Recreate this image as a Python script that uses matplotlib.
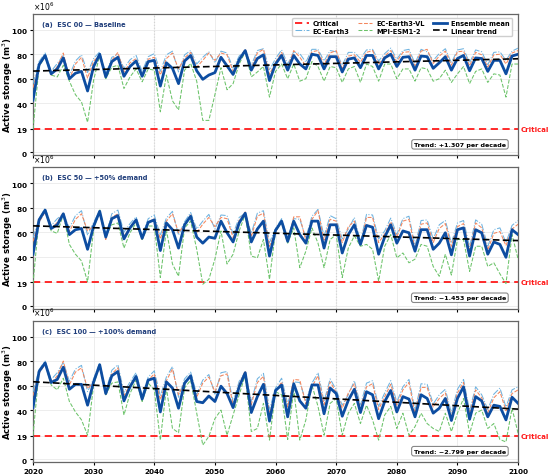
import numpy as np
import matplotlib
matplotlib.use("Agg")
import matplotlib.pyplot as plt

years = list(range(2020, 2101))

# ---------------- Panel (a) ESC 00 (values in 10^6 m3) ----------------
ens_a = [42.5, 71.5, 79, 64, 68, 77, 60, 64.5, 66, 50,
         70, 80, 61.5, 74, 77.5, 62, 70, 74.5, 62, 74,
         75, 54, 73, 68.5, 56, 74.5, 79, 66.5, 59.5, 63,
         65, 77.5, 70.5, 63.5, 75.5, 83, 67, 76.5, 79.5, 58.5,
         72, 79, 67, 79, 72, 68, 80, 79, 68, 78,
         78, 65.5, 76, 77, 69, 79, 79, 68, 77, 80,
         70, 77.5, 78, 67, 78.5, 78, 68.5, 73, 78, 67,
         76.5, 79, 66.5, 77, 76.5, 66, 75, 75, 64, 78.5,
         80]
mpi_a = [19, 70, 78, 63, 61.5, 71, 58, 47, 41, 24.5,
         59, 79, 60, 69.5, 71, 52, 61.5, 68, 57.5, 68,
         67, 33, 63, 42, 34.5, 67, 72.5, 58, 26, 26,
         47, 69, 51, 56, 72, 82, 61.5, 65.5, 70, 45,
         66, 72, 60, 72, 58, 60, 74, 70, 58, 70,
         69, 57, 68, 70, 57, 72, 70, 58, 72, 72,
         60, 68, 68, 58, 69, 68, 58, 60, 67, 57,
         64, 70, 56, 66, 68, 57, 64, 63, 45, 72,
         72]
ec3_a = [56, 74, 81, 66, 72.5, 79, 62.5, 74.5, 79.5, 65,
         76.5, 82, 63.5, 77.5, 80, 68.5, 75.5, 79, 66, 78,
         80.5, 66, 79.5, 82.5, 65.5, 79.5, 83, 72, 77.5, 82,
         73, 82.5, 81, 68.5, 78.5, 83, 71, 83, 84.5, 67,
         76.5, 83.5, 72, 82, 80.5, 73.5, 84, 84, 74.5, 83,
         82, 71, 81.5, 81.5, 76.5, 83.5, 84, 74.5, 80.5, 85,
         76, 83, 84, 72.5, 84, 82, 75, 80.5, 84.5, 73,
         83.5, 84.5, 73, 83.5, 82, 71.5, 81.5, 82, 75, 82.5,
         85]
vl_a = [52.5, 70.5, 78, 63, 70, 81, 59.5, 72, 77.5, 60.5,
        74.5, 79, 61, 75, 81.5, 65.5, 73, 76.5, 62.5, 76,
        77.5, 63, 76.5, 81, 68, 77, 81.5, 69.5, 75, 81,
        75, 81, 79.5, 66, 76, 84, 68.5, 81, 84, 63.5,
        73.5, 81.5, 69, 83, 77.5, 70.5, 82, 83, 71.5, 81,
        83, 68.5, 78.5, 79.5, 73.5, 81.5, 83, 71.5, 78.5, 83,
        74, 81.5, 82, 70.5, 82.5, 84, 72.5, 78.5, 82.5, 71,
        82, 82.5, 70.5, 81.5, 79.5, 69.5, 79.5, 80, 72, 81,
        83]

# ---------------- Panel (b) ESC 50 ----------------
ens_b = [42, 70, 78, 63, 66, 75, 58, 62, 63, 46,
         65, 77, 56, 71, 73.5, 54.5, 63.5, 70, 55, 68,
         70, 45, 67.5, 62, 47, 66, 73, 56, 51, 56,
         55, 69, 59.5, 52, 67.5, 75.5, 52, 62.5, 69, 40.5,
         61.5, 69, 52.5, 69, 58, 51, 69, 69, 47, 66,
         66, 43, 58, 66, 50, 65.5, 64, 42, 56, 66,
         51, 61, 59.5, 44.5, 62, 62, 46, 51, 59.5, 41.5,
         62, 63.5, 40.5, 62, 59.5, 42, 52, 50, 39.5, 62,
         58]
mpi_b = [18, 71, 78, 61, 59, 74.5, 50, 42, 36.5, 19.5,
         62, 78.5, 57, 66, 67.5, 47, 59.5, 67.5, 54, 65,
         65, 23, 62, 34, 24, 63.5, 69, 46, 17.5, 21.5,
         38, 61, 34, 42, 61, 74.5, 40.5, 39, 54, 21.5,
         61, 67.5, 51, 63.5, 31, 44.5, 63.5, 51, 31, 54,
         58, 23, 47, 57, 48.5, 50, 46, 20, 48.5, 58,
         39, 43, 35, 38, 50, 48.5, 32, 24, 42, 25,
         54, 54, 28, 48.5, 48.5, 32, 35, 26, 18, 58,
         38]
ec3_b = [55.5, 71, 79.5, 65.5, 71, 74.5, 63.5, 73.5, 77.5, 57.5,
         68, 77.5, 57, 75, 78, 60, 67, 72.5, 57, 71,
         74, 57.5, 71.5, 77, 57.5, 68.5, 76, 62.5, 69, 74.5,
         62.5, 74, 73.5, 58.5, 72, 75.5, 59, 75.5, 77.5, 51.5,
         63, 71, 54.5, 71, 70.5, 55.5, 73, 78.5, 56.5, 73.5,
         71, 54.5, 62.5, 72, 52, 74.5, 74, 54.5, 61, 71.5,
         58, 71, 73, 49, 69.5, 70, 54.5, 66, 69.5, 51,
         67.5, 69.5, 48, 70, 66.5, 48.5, 62, 63.5, 51.5, 65.5,
         69.5]
vl_b = [52.5, 68, 76.5, 62.5, 68, 76, 60.5, 70.5, 75, 61,
        65, 75, 54, 72, 75, 56.5, 64, 70, 54, 68,
        71, 54.5, 69, 75, 59.5, 66, 74, 59.5, 66.5, 72,
        64.5, 72, 71, 55.5, 69.5, 76.5, 56.5, 73, 75.5, 48.5,
        60.5, 68.5, 52, 72.5, 72.5, 53, 70.5, 77.5, 53.5, 70.5,
        69, 51.5, 64.5, 69, 49.5, 72, 72, 51.5, 58.5, 68.5,
        56, 69, 70.5, 46.5, 66.5, 67.5, 51.5, 63, 67, 48.5,
        64.5, 67, 45.5, 67.5, 63.5, 45.5, 59, 60.5, 49, 62.5,
        66.5]

# ---------------- Panel (c) ESC 100 ----------------
ens_c = [42, 71.5, 78.5, 62.5, 65, 75, 57, 61, 61, 44,
         63, 77, 53.5, 68, 71.5, 47.5, 59, 67.5, 49, 64.5,
         66, 38.5, 63, 58, 41.5, 62, 68, 47, 46, 51.5,
         47, 59.5, 53.5, 42, 59, 70.5, 38, 51, 61, 31,
         56, 60.5, 34.5, 61.5, 47.5, 41.5, 60.5, 60.5, 37, 58,
         53.5, 35, 48, 57, 38, 55, 52.5, 33, 47, 56,
         38.5, 51, 49, 34.5, 52.5, 49.5, 37.5, 41.5, 49.5, 31.5,
         49.5, 59, 32.5, 51, 47.5, 34.5, 44, 43, 32, 50.5,
         45.5]
mpi_c = [19.5, 71.5, 78, 60.5, 56.5, 66, 47, 38.5, 32, 19.5,
         60.5, 77, 52.5, 62, 63, 36, 53.5, 64.5, 47, 62,
         56.5, 15.5, 58, 25, 21.5, 58, 64.5, 37.5, 11.5, 18.5,
         33, 40, 19.5, 36, 52.5, 68.5, 22.5, 25, 45.5, 15.5,
         55, 52.5, 16, 56.5, 15.5, 32, 60.5, 43, 19.5, 45.5,
         49.5, 19.5, 37.5, 45.5, 29, 44, 32, 15.5, 36, 43,
         25, 37.5, 19.5, 26.5, 37.5, 29, 25, 22.5, 37.5, 22.5,
         37.5, 49.5, 21, 37.5, 40, 25, 29, 16, 14, 41.5,
         21]
ec3_c = [55, 73, 80, 65, 70.5, 79, 63.5, 73.5, 76.5, 55,
         65.5, 78.5, 55.5, 72.5, 77, 54.5, 63, 70.5, 51.5, 67,
         72, 51.5, 67, 75.5, 50.5, 65.5, 71, 53, 64.5, 69,
         53, 70.5, 71.5, 46.5, 63.5, 71, 47, 65.5, 70, 40.5,
         58, 66, 45, 63, 62.5, 47.5, 62, 70.5, 47, 65.5,
         56.5, 44, 52.5, 64, 44, 62, 64, 43, 54, 64,
         46.5, 59, 65, 40, 61.5, 61, 45, 52.5, 57, 37.5,
         57, 65, 39.5, 59, 52.5, 40.5, 53, 58, 42.5, 56.5,
         59]
vl_c = [51.5, 70, 77.5, 62, 68, 80, 60.5, 71, 74.5, 57.5,
        63, 75.5, 52.5, 69.5, 74.5, 52, 60.5, 67.5, 48.5, 64.5,
        69.5, 48.5, 64, 73.5, 52.5, 62.5, 68.5, 50.5, 62, 67,
        55, 68, 69.5, 43.5, 61, 72, 44.5, 62.5, 67.5, 37,
        55, 63, 42.5, 65, 64.5, 45, 59, 68, 44.5, 63,
        54.5, 41.5, 54, 61.5, 41, 59, 61.5, 40.5, 51, 61,
        44, 56.5, 62.5, 37, 58.5, 58.5, 42.5, 49.5, 54, 34.5,
        54, 62.5, 37, 56.5, 50, 38, 50, 55, 39.5, 53.5,
        56.5]

panel_titles = ["(a)  ESC 00 \u2014 Baseline",
                "(b)  ESC 50 \u2014 +50% demand",
                "(c)  ESC 100 \u2014 +100% demand"]
trend_texts = ["Trend: +1.307 per decade",
               "Trend: \u22121.453 per decade",
               "Trend: \u22122.799 per decade"]
critical_level = 19
scale = 1e6
yticks = [0, 19, 40, 60, 80, 100]
xticks = list(range(2020, 2101, 10))
ref_years = [2040, 2070]

panels = [(ens_a, ec3_a, vl_a, mpi_a),
          (ens_b, ec3_b, vl_b, mpi_b),
          (ens_c, ec3_c, vl_c, mpi_c)]

C_ENS = "#0d4da1"
C_EC3 = "#6fb3e0"
C_VL = "#f4875e"
C_MPI = "#6cc36a"
C_TITLE = "#1f3d7a"

fig = plt.figure(figsize=(5.5, 4.77), dpi=100)
gs = fig.add_gridspec(3, 1, left=0.06, right=0.942, top=0.969,
                      bottom=0.029, hspace=0.084)
axes = [fig.add_subplot(gs[i]) for i in range(3)]
yrs = np.array(years)

for i, ax in enumerate(axes):
    ens, ec3, vl, mpi = [np.array(s) * scale for s in panels[i]]
    ax.grid(True, color="#e6e6e6", lw=0.5, zorder=0)
    for ry in ref_years:
        ax.axvline(ry, color="#aaaaaa", ls=":", lw=0.8, zorder=1)
    h_crit = ax.axhline(critical_level * scale, color="#ff1a1a", ls="--",
                        lw=1.3, dashes=(4, 2.5), label="Critical", zorder=2)
    h_ec3, = ax.plot(yrs, ec3, color=C_EC3, ls="-.", lw=0.75,
                     label="EC-Earth3", zorder=3)
    h_vl, = ax.plot(yrs, vl, color=C_VL, ls="--", lw=0.75,
                    label="EC-Earth3-VL", zorder=3)
    h_mpi, = ax.plot(yrs, mpi, color=C_MPI, ls="--", lw=0.75,
                     label="MPI-ESM1-2", zorder=3)
    h_ens, = ax.plot(yrs, ens, color=C_ENS, lw=2.0,
                     label="Ensemble mean", zorder=5)
    coef = np.polyfit(yrs, ens, 1)
    h_tr, = ax.plot(yrs, np.polyval(coef, yrs), color="black", ls="--",
                    lw=1.2, dashes=(4, 2), label="Linear trend", zorder=6)

    ax.set_xlim(2020, 2100)
    ax.set_ylim(-2.5 * scale, 113 * scale)
    ax.set_yticks([v * scale for v in yticks])
    ax.ticklabel_format(axis="y", style="sci", scilimits=(6, 6),
                        useMathText=True)
    ax.yaxis.get_offset_text().set_fontsize(5.5)
    ax.set_xticks(xticks)
    ax.tick_params(axis="both", labelsize=5.2, length=2.5, pad=1.5)
    for lab in ax.get_yticklabels() + ax.get_xticklabels():
        lab.set_fontweight("bold")
    if i < 2:
        ax.tick_params(axis="x", labelbottom=False)
    ax.set_ylabel("Active storage (m$^3$)", fontsize=6.2, fontweight="bold")
    ax.yaxis.set_label_coords(-0.038, 0.5)
    for sp in ax.spines.values():
        sp.set_color("#666666")
        sp.set_linewidth(0.9)

    ax.text(0.018, 0.95, panel_titles[i], transform=ax.transAxes,
            ha="left", va="top", fontsize=4.8, fontweight="bold",
            color=C_TITLE)
    ax.text(0.975, 0.06, trend_texts[i], transform=ax.transAxes,
            ha="right", va="bottom", fontsize=4.6, fontweight="bold",
            bbox=dict(boxstyle="round,pad=0.35", fc="white", ec="#888888",
                      lw=0.8))
    ax.text(1.006, critical_level * scale, "Critical",
            transform=ax.get_yaxis_transform(), ha="left", va="center",
            fontsize=5.0, fontweight="bold", color="#ff1a1a", clip_on=False)

    if i == 0:
        leg = ax.legend(handles=[h_crit, h_ec3, h_vl, h_mpi, h_ens, h_tr],
                        loc="upper right", ncol=3,
                        prop={"weight": "bold", "size": 4.8},
                        framealpha=0.95, edgecolor="#cccccc",
                        handlelength=2.1, columnspacing=1.3,
                        borderpad=0.35, labelspacing=0.25,
                        handletextpad=0.6,
                        bbox_to_anchor=(0.995, 0.995))

fig.savefig("out.png", dpi=100)
